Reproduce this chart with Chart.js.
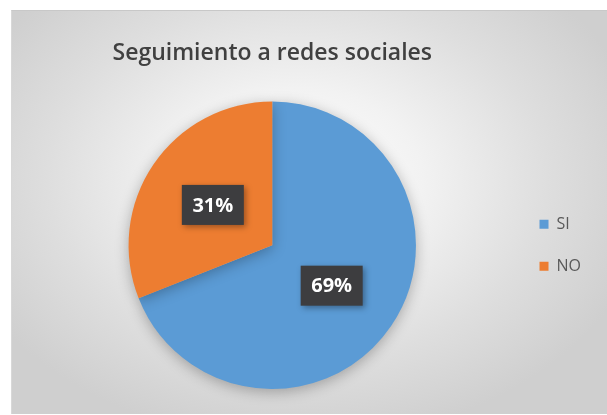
<!DOCTYPE html>
<html>
<head>
<meta charset="utf-8">
<script src="https://cdn.jsdelivr.net/npm/chart.js@4.4.1/dist/chart.umd.min.js"></script>
<style>
  html, body { margin: 0; padding: 0; background: #ffffff; }
  #wrap {
    position: absolute; left: 11px; top: 10px; width: 596px; height: 404px;
    background: radial-gradient(ellipse 60% 65% at 48% 42%, #ffffff 0%, #f2f2f2 35%, #dedede 70%, #cfcfcf 100%);
    border-top: 1px solid #c8c8c8; border-left: 1px solid #d8d8d8;
    box-sizing: border-box;
  }
  canvas { display: block; }
</style>
</head>
<body>
<div id="wrap"><canvas id="c" width="595" height="403"></canvas></div>
<script>
const categories = ["SI", "NO"];
const values = [69, 31];
const colors = ["#5B9BD5", "#ED7D31"];
const chartTitle = "Seguimiento a redes sociales";

const labelPlugin = {
  id: 'boxLabels',
  beforeDatasetDraw(chart) {
    const ctx = chart.ctx;
    ctx.save();
    ctx.shadowColor = 'rgba(0,0,0,0.28)';
    ctx.shadowBlur = 14;
    ctx.shadowOffsetY = 3;
  },
  afterDatasetDraw(chart) {
    chart.ctx.restore();
  },
  afterDatasetsDraw(chart) {
    const ctx = chart.ctx;
    const meta = chart.getDatasetMeta(0);
    const data = chart.data.datasets[0].data;
    const total = data.reduce((a, b) => a + b, 0);
    meta.data.forEach((arc, i) => {
      const p = arc.tooltipPosition();
      const txt = Math.round(data[i] / total * 100) + '%';
      ctx.save();
      ctx.font = 'bold 20px "Open Sans", sans-serif';
      const w = 62, h = 40;
      ctx.shadowColor = 'rgba(0,0,0,0.35)';
      ctx.shadowBlur = 6;
      ctx.shadowOffsetX = 2;
      ctx.shadowOffsetY = 2;
      ctx.fillStyle = '#3d3d3f';
      ctx.fillRect(p.x - w / 2, p.y - h / 2, w, h);
      ctx.shadowColor = 'transparent';
      ctx.fillStyle = '#ffffff';
      ctx.textAlign = 'center';
      ctx.textBaseline = 'middle';
      ctx.fillText(txt, p.x, p.y + 1);
      ctx.restore();
    });
  }
};

new Chart(document.getElementById('c'), {
  type: 'pie',
  data: {
    labels: categories,
    datasets: [{
      data: values,
      backgroundColor: colors,
      borderWidth: 0
    }]
  },
  options: {
    responsive: false,
    animation: false,
    events: [],
    layout: { padding: { left: 19, right: 16, top: 0, bottom: 25 } },
    plugins: {
      title: {
        display: true,
        text: chartTitle,
        fullSize: false,
        color: '#404040',
        font: { family: '"Open Sans", sans-serif', size: 23, weight: '600' },
        padding: { top: 29, bottom: 34 }
      },
      legend: {
        display: true,
        position: 'right',
        fullSize: false,
        labels: {
          boxWidth: 9,
          boxHeight: 9,
          padding: 26,
          color: '#595959',
          font: { family: '"Open Sans", sans-serif', size: 16 }
        }
      },
      tooltip: { enabled: false }
    }
  },
  plugins: [labelPlugin]
});
</script>
</body>
</html>
